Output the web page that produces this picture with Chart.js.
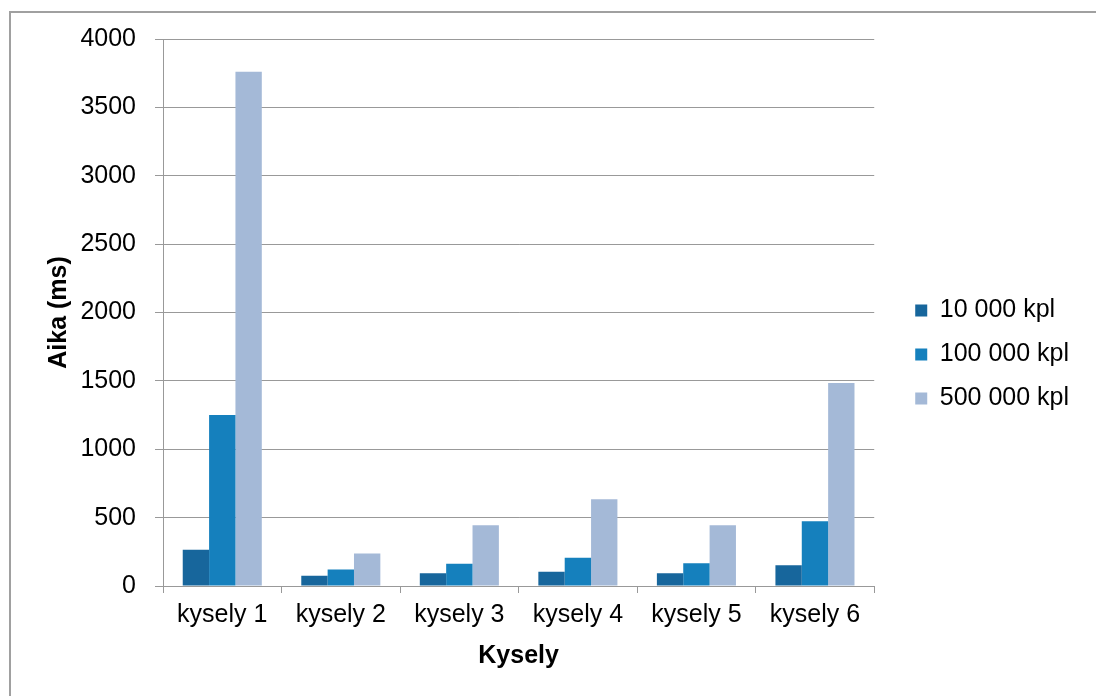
<!DOCTYPE html>
<html>
<head>
<meta charset="utf-8">
<script src="https://cdn.jsdelivr.net/npm/chart.js@4"></script>
<style>
  html, body { margin: 0; padding: 0; background: #fff; overflow: hidden; }
  #frame { position: absolute; left: 9px; top: 11px; width: 1200px; height: 800px; border: 2px solid #a0a0a0; box-sizing: border-box; }
  #wrap { position: absolute; left: 0; top: 0; width: 1096px; height: 696px; }
</style>
</head>
<body>
<div id="frame"></div>
<div id="wrap"><canvas id="myChart" width="1096" height="696"></canvas></div>
<script>
const categories = ["kysely 1", "kysely 2", "kysely 3", "kysely 4", "kysely 5", "kysely 6"];
const seriesNames = ["10 000 kpl", "100 000 kpl", "500 000 kpl"];
const rows10k = [265, 75, 93, 105, 93, 152];
const rows100k = [1250, 120, 163, 207, 166, 474];
const rows500k = [3760, 237, 445, 635, 445, 1485];
const yTicks = [0, 500, 1000, 1500, 2000, 2500, 3000, 3500, 4000];

const gridGray = "#999999";
const font = "'Liberation Sans', Arial, sans-serif";

// push the legend to where excel put it
const legendNudge = {
  id: "legendNudge",
  afterLayout(chart) {
    const lg = chart.legend;
    lg.left += 22; lg.right += 22;
    lg.top -= 13; lg.bottom -= 13;
  },
};

const ctx = document.getElementById("myChart");
const myChart = new Chart(ctx, {
  type: "bar",
  data: {
    labels: categories,
    datasets: [
      { label: seriesNames[0], data: rows10k, backgroundColor: "#17669c" },
      { label: seriesNames[1], data: rows100k, backgroundColor: "#1580bd" },
      { label: seriesNames[2], data: rows500k, backgroundColor: "#a4b9d7" },
    ],
  },
  options: {
    responsive: false,
    animation: false,
    layout: { padding: { top: 39, right: 39, bottom: 0, left: 0 } },
    datasets: {
      bar: { barPercentage: 1, categoryPercentage: 0.667 },
    },
    plugins: {
      tooltip: { enabled: false },
      legend: {
        position: "right",
        labels: {
          boxWidth: 12,
          boxHeight: 12,
          padding: 19,
          color: "#000",
          font: { family: font, size: 25 },
        },
      },
    },
    scales: {
      x: {
        afterFit(scale) { scale.height = 110; },
        grid: {
          offset: true,
          drawOnChartArea: false,
          tickLength: 7,
          color: gridGray,
        },
        border: { color: gridGray },
        ticks: {
          padding: 7,
          color: "#000",
          font: { family: font, size: 25 },
        },
        title: {
          display: true,
          text: "Kysely",
          color: "#000",
          padding: { top: 0, bottom: 25 },
          font: { family: font, size: 25, weight: "bold" },
        },
      },
      y: {
        min: 0,
        max: 4000,
        afterFit(scale) { scale.width = 163; },
        afterBuildTicks(scale) { scale.ticks = yTicks.map(v => ({ value: v })); },
        grid: { color: gridGray, tickLength: 8 },
        border: { color: gridGray },
        ticks: {
          padding: 19,
          color: "#000",
          font: { family: font, size: 25 },
          callback: (v) => String(v),
        },
        title: {
          display: true,
          text: "Aika (ms)",
          color: "#000",
          padding: { top: 44, bottom: 0 },
          font: { family: font, size: 25, weight: "bold" },
        },
      },
    },
  },
  plugins: [legendNudge],
});
</script>
</body>
</html>
